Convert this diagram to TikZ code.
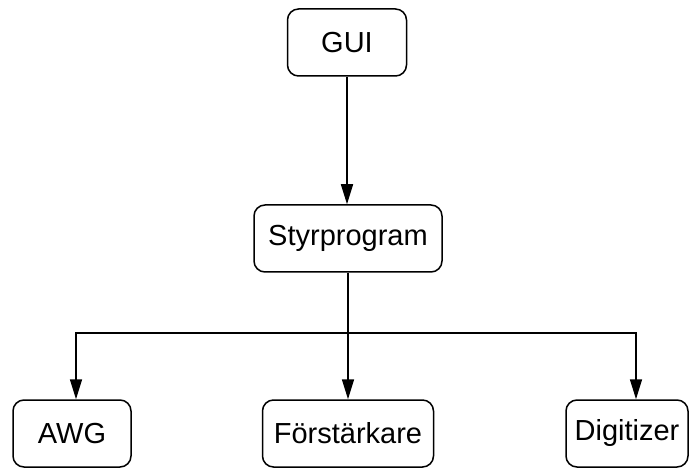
\documentclass[tikz,border=0pt]{standalone}
\usepackage{fontspec}
\setmainfont{Liberation Sans}
\usetikzlibrary{arrows.meta}
\begin{document}
\begin{tikzpicture}[x=1pt,y=1pt,
  box/.style={draw=black, line width=1.5pt, rounded corners=11pt, fill=white,
    minimum height=67pt, inner sep=0pt, font=\fontsize{29}{34}\selectfont},
  conn/.style={line width=1.6pt, -{Triangle[length=20pt,width=12pt]}}]
\useasboundingbox (0,0) rectangle (689,-468);
\node[box, minimum width=119pt] (gui) at (347,-42.5) {GUI};
\node[box, minimum width=188pt] (styr) at (348,-238.5) {Styrprogram};
\node[box, minimum width=118pt] (awg) at (72,-433.5) {AWG};
\node[box, minimum width=171pt] (forst) at (348,-433.5) {Förstärkare};
\node[box, minimum width=122pt] (dig) at (627,-433.5) {Digitizer};
\coordinate (bus) at (348,-333);
\draw[conn] (gui.south) -- (gui.south |- styr.north);
\draw[conn] (styr.south) -- (forst.north);
\draw[conn] (bus) -| ([xshift=4pt]awg.north);
\draw[conn] (bus) -| ([xshift=9pt]dig.north);
\end{tikzpicture}
\end{document}
